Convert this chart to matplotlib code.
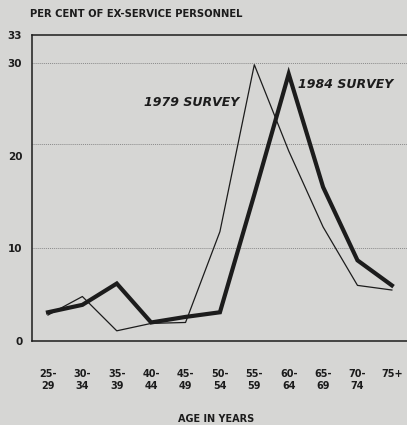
import matplotlib.pyplot as plt

# age groups and survey values (per cent of ex-service personnel)
age_groups = ["25-\n29", "30-\n34", "35-\n39", "40-\n44", "45-\n49", "50-\n54",
              "55-\n59", "60-\n64", "65-\n69", "70-\n74", "75+\n"]
survey_1979 = [2.8, 4.8, 1.1, 1.9, 2.0, 11.8, 29.8, 20.5, 12.3, 6.0, 5.5]
survey_1984 = [3.1, 3.9, 6.2, 2.0, 2.6, 3.1, 15.8, 28.8, 16.6, 8.7, 6.0]
y_ticks = [0, 10, 20, 30, 33]
grid_levels = [10, 21.3, 30]

bg = "#d6d6d4"
ink = "#1c1c1c"

fig = plt.figure(figsize=(4.07, 4.25), dpi=100, facecolor=bg)
ax = fig.add_axes([0.0786, 0.1976, 0.9214, 0.72])
ax.set_facecolor(bg)

x = list(range(len(age_groups)))
for lvl in grid_levels:
    ax.axhline(lvl, color="#8a8a8a", lw=0.7, ls=(0, (1, 1)), zorder=1)

ax.plot(x, survey_1979, color=ink, lw=0.9, zorder=3)
ax.plot(x, survey_1984, color=ink, lw=3.0, solid_joinstyle="miter", zorder=4)

ax.set_xlim(-0.465, 10.44)
ax.set_ylim(0, 33)

ax.set_yticks(y_ticks)
ax.set_yticklabels([str(v) for v in y_ticks], fontsize=7.5, color=ink, fontweight="bold")
ax.set_xticks(x)
ax.set_xticklabels(age_groups, fontsize=7, color=ink, fontweight="bold", linespacing=1.3)
ax.tick_params(axis="both", length=0)
ax.tick_params(axis="x", pad=20)
ax.tick_params(axis="y", pad=7)

for side in ["left", "bottom", "top"]:
    ax.spines[side].set_color(ink)
    ax.spines[side].set_linewidth(1.1)
ax.spines["right"].set_visible(False)

ax.text(5.55, 25.7, "1979 SURVEY", fontsize=9, fontstyle="italic", fontweight="bold",
        color=ink, ha="right", va="center")
ax.text(7.28, 27.7, "1984 SURVEY", fontsize=9, fontstyle="italic", fontweight="bold",
        color=ink, ha="left", va="center")

fig.text(0.074, 0.967, "PER CENT OF EX-SERVICE PERSONNEL", fontsize=7.2,
         fontweight="bold", color=ink, va="center")
fig.text(0.53, 0.015, "AGE IN YEARS", fontsize=7, fontweight="bold",
         color=ink, ha="center", va="center")

fig.savefig("out.png", dpi=100, facecolor=bg)
